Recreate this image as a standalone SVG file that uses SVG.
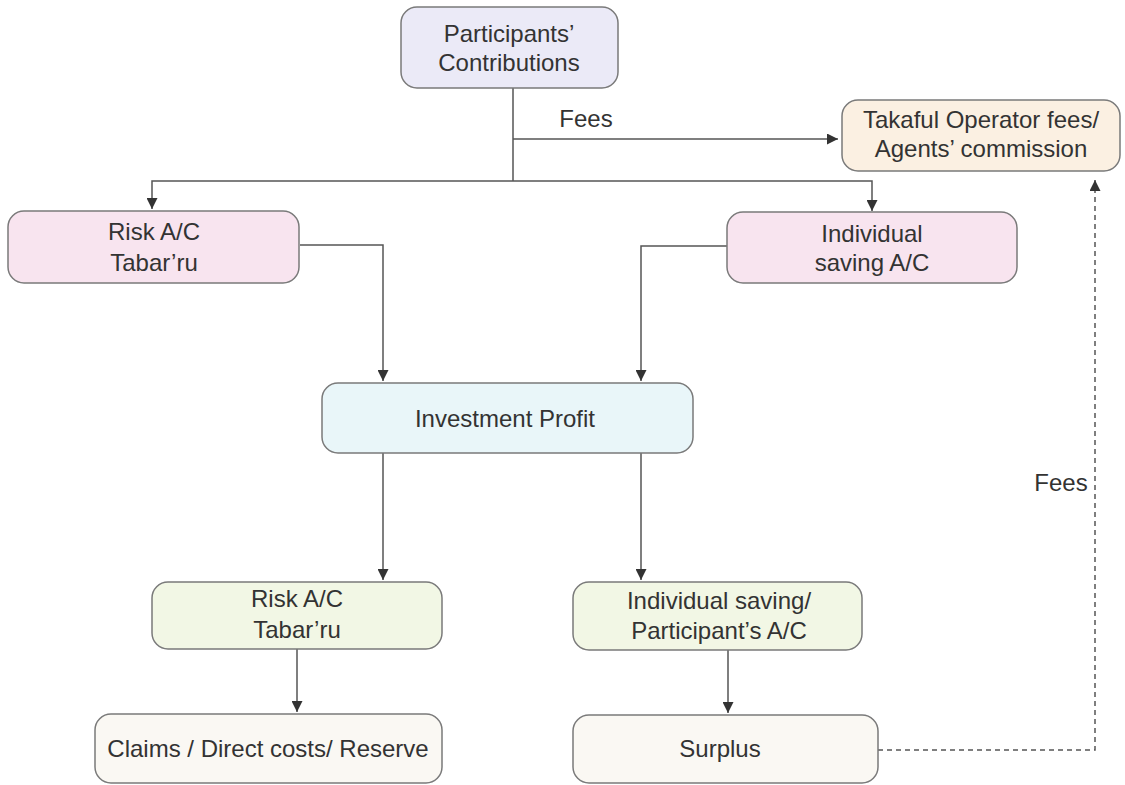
<svg xmlns="http://www.w3.org/2000/svg" width="1125" height="785" viewBox="0 0 1125 785">
  <style>
    .box { stroke: #7a7a7a; stroke-width: 1.5; }
    .lbl { font-family: "Liberation Sans", Arial, sans-serif; font-size: 24px; fill: #333333; text-anchor: middle; }
    .link { fill: none; stroke: #555555; stroke-width: 1.5; }
    .dash { fill: none; stroke: #555555; stroke-width: 1.5; stroke-dasharray: 5 4; }
    .lilac { fill: #ebeaf7; }
    .peach { fill: #fbf0e2; }
    .pink { fill: #f8e4ef; }
    .sky { fill: #e9f6f9; }
    .lime { fill: #f2f7e5; }
    .cream { fill: #faf8f3; }
  </style>
  <defs>
    <marker id="arrow" viewBox="0 0 10 10" refX="10" refY="5" markerWidth="11" markerHeight="11" markerUnits="userSpaceOnUse" orient="auto">
      <path d="M0,0 L10,5 L0,10 z" fill="#333333"/>
    </marker>
  </defs>

  <rect width="1125" height="785" fill="#ffffff"/>

  <!-- connectors -->
  <g id="connectors">
    <path class="link" d="M513 88 V181"/>
    <path class="link" d="M513 139 H838" marker-end="url(#arrow)"/>
    <text class="lbl" x="586" y="127">Fees</text>
    <path class="link" d="M513 181 H152 V209" marker-end="url(#arrow)"/>
    <path class="link" d="M513 181 H872 V211" marker-end="url(#arrow)"/>
    <path class="link" d="M300 245 H383 V381" marker-end="url(#arrow)"/>
    <path class="link" d="M727 246 H641 V381" marker-end="url(#arrow)"/>
    <path class="link" d="M383 453 V580" marker-end="url(#arrow)"/>
    <path class="link" d="M641 453 V580" marker-end="url(#arrow)"/>
    <path class="link" d="M297 649 V712" marker-end="url(#arrow)"/>
    <path class="link" d="M728 650 V713" marker-end="url(#arrow)"/>
    <path class="dash" d="M878 750 H1095 V180" marker-end="url(#arrow)"/>
    <text class="lbl" x="1061" y="491">Fees</text>
  </g>

  <!-- nodes -->
  <g id="participants">
    <rect class="box lilac" x="401" y="7" width="217" height="81" rx="16"/>
    <text class="lbl" x="509" y="42">Participants’</text>
    <text class="lbl" x="509" y="71">Contributions</text>
  </g>

  <g id="operator-fees">
    <rect class="box peach" x="842" y="100" width="278" height="71" rx="16"/>
    <text class="lbl" x="981" y="128">Takaful Operator fees/</text>
    <text class="lbl" x="981" y="157">Agents’ commission</text>
  </g>

  <g id="risk-ac">
    <rect class="box pink" x="8" y="211" width="291" height="72" rx="16"/>
    <text class="lbl" x="154" y="240">Risk A/C</text>
    <text class="lbl" x="154" y="271">Tabar’ru</text>
  </g>

  <g id="saving-ac">
    <rect class="box pink" x="727" y="212" width="290" height="71" rx="16"/>
    <text class="lbl" x="872" y="242">Individual</text>
    <text class="lbl" x="872" y="271">saving A/C</text>
  </g>

  <g id="investment-profit">
    <rect class="box sky" x="322" y="383" width="371" height="70" rx="16"/>
    <text class="lbl" x="505" y="427">Investment Profit</text>
  </g>

  <g id="risk-ac-2">
    <rect class="box lime" x="152" y="582" width="290" height="67" rx="16"/>
    <text class="lbl" x="297" y="607">Risk A/C</text>
    <text class="lbl" x="297" y="638">Tabar’ru</text>
  </g>

  <g id="participant-ac">
    <rect class="box lime" x="573" y="582" width="289" height="68" rx="16"/>
    <text class="lbl" x="719" y="609">Individual saving/</text>
    <text class="lbl" x="719" y="639">Participant’s A/C</text>
  </g>

  <g id="claims">
    <rect class="box cream" x="95" y="714" width="347" height="69" rx="16"/>
    <text class="lbl" x="268" y="757">Claims / Direct costs/ Reserve</text>
  </g>

  <g id="surplus">
    <rect class="box cream" x="573" y="715" width="305" height="68" rx="16"/>
    <text class="lbl" x="720" y="757">Surplus</text>
  </g>
</svg>
